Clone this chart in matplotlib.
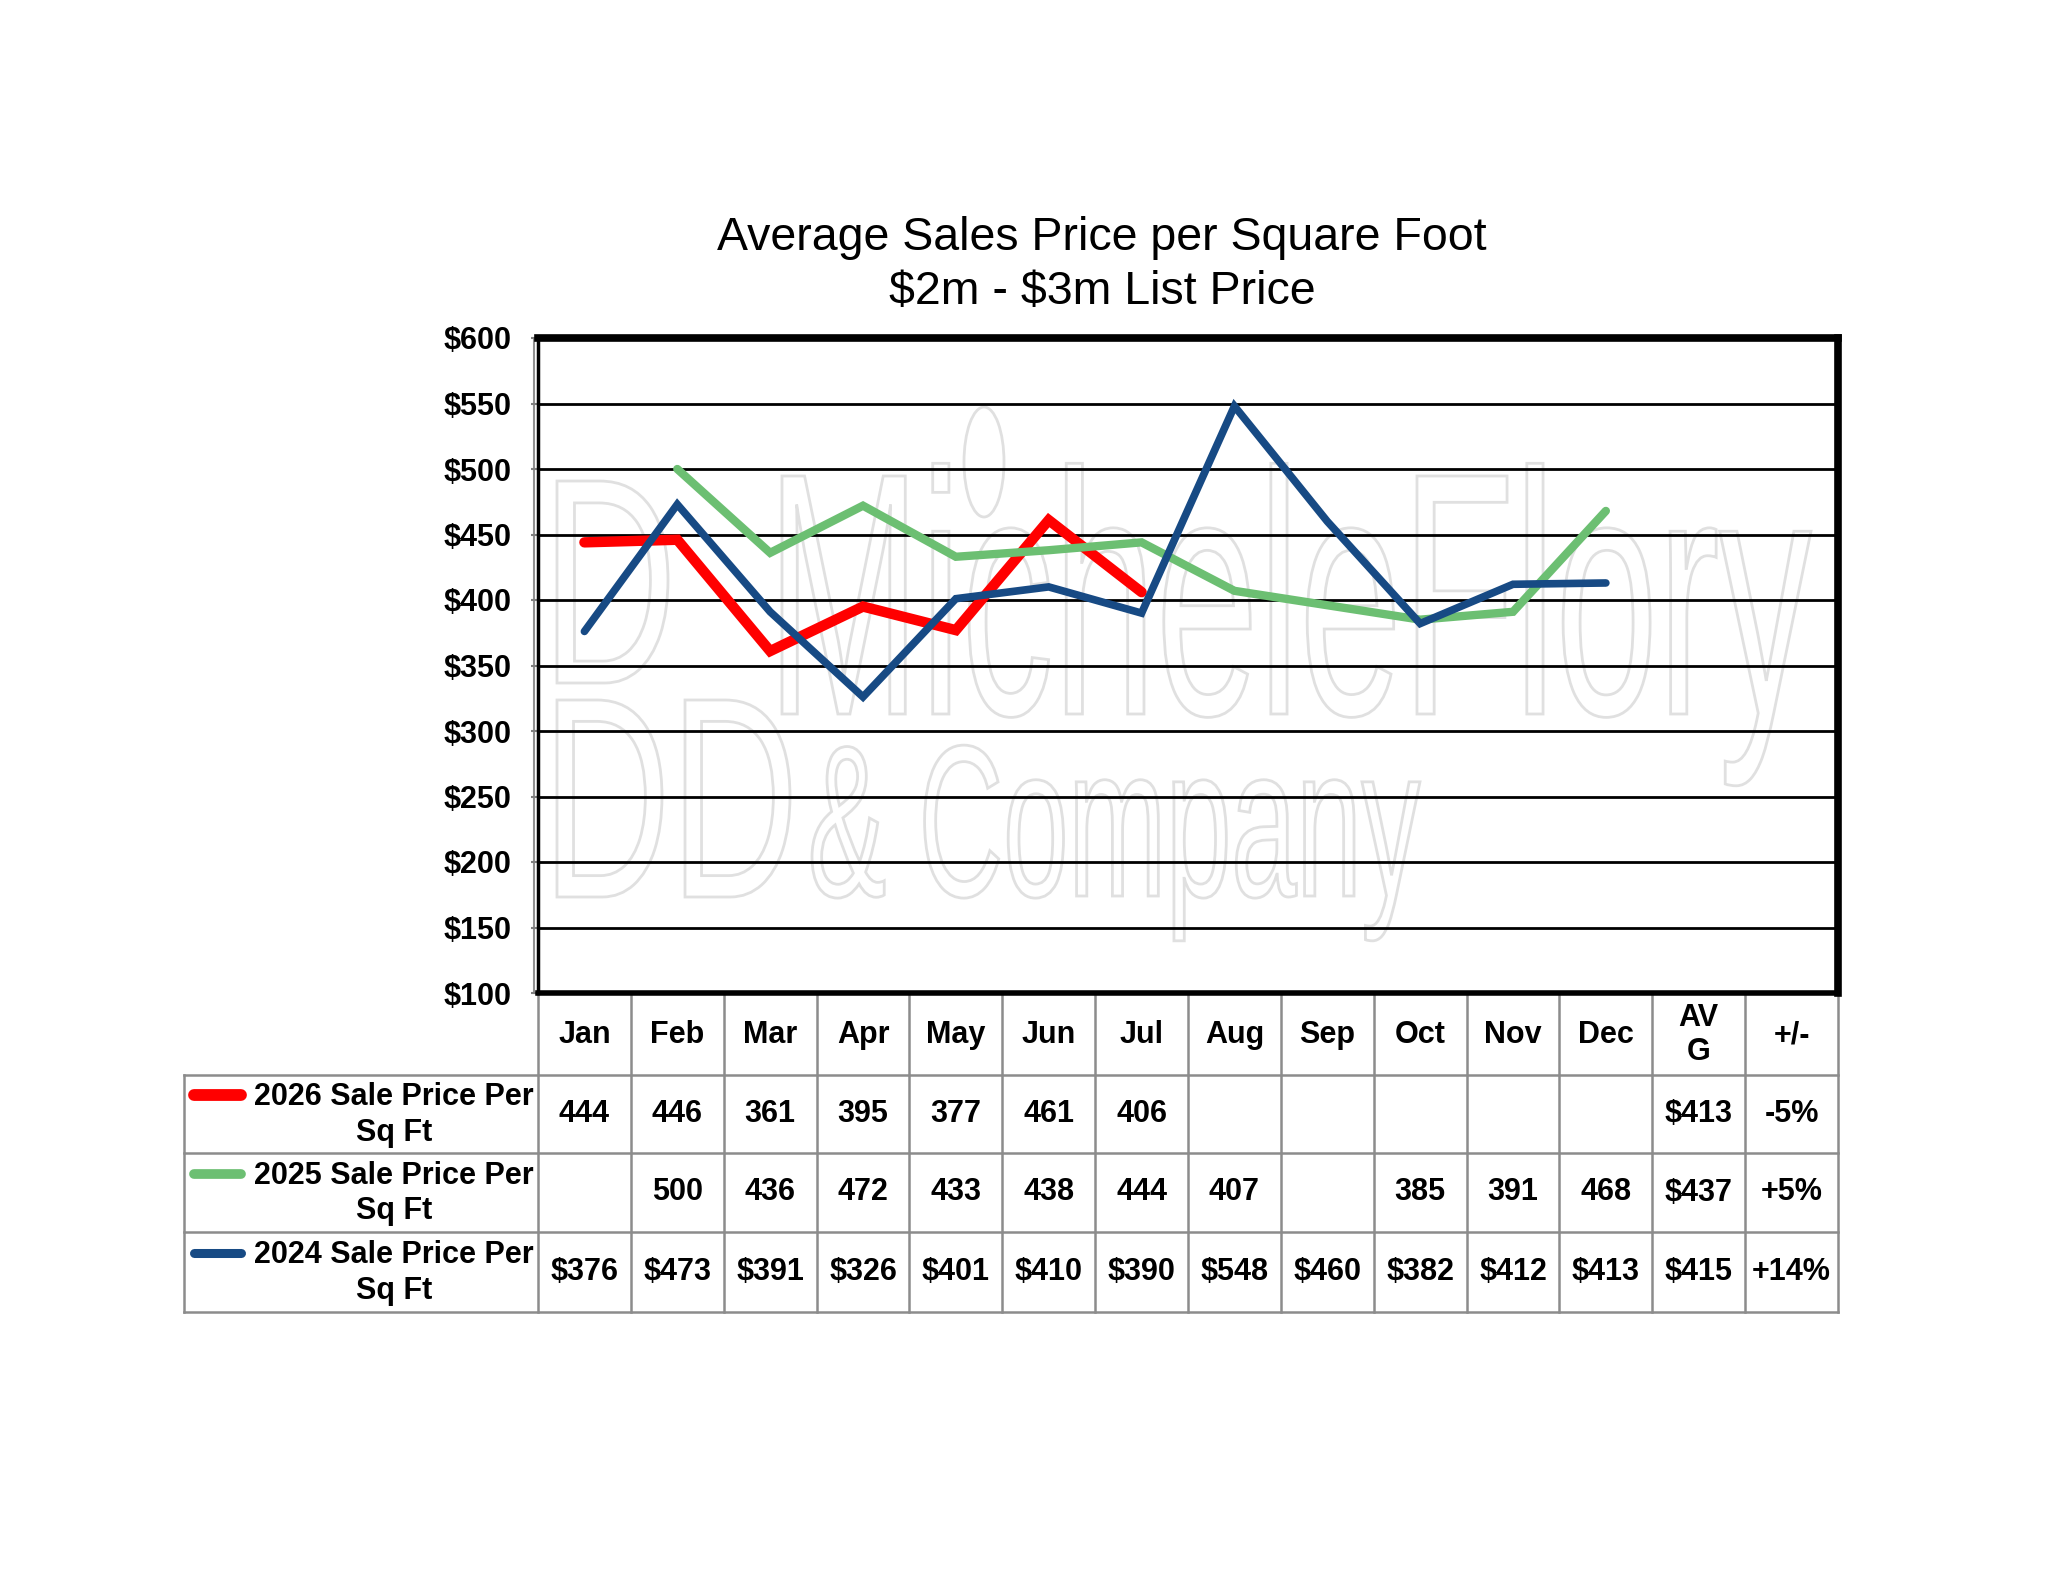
import numpy as np
import matplotlib
matplotlib.use("Agg")
import matplotlib.pyplot as plt
from matplotlib.textpath import TextPath
from matplotlib.patches import PathPatch, Ellipse
from matplotlib.font_manager import FontProperties
import matplotlib.transforms as mtransforms

plt.rcParams['font.family'] = ['Liberation Sans', 'DejaVu Sans']
plt.rcParams['text.parse_math'] = False

months = ['Jan', 'Feb', 'Mar', 'Apr', 'May', 'Jun', 'Jul', 'Aug', 'Sep', 'Oct', 'Nov', 'Dec']
extra_cols = ['AV\nG', '+/-']
sales_2026 = [444, 446, 361, 395, 377, 461, 406, None, None, None, None, None]
sales_2025 = [None, 500, 436, 472, 433, 438, 444, 407, None, 385, 391, 468]
sales_2024 = [376, 473, 391, 326, 401, 410, 390, 548, 460, 382, 412, 413]
series_labels = ['2026 Sale Price Per\nSq Ft', '2025 Sale Price Per\nSq Ft', '2024 Sale Price Per\nSq Ft']
series_avg = ['$413', '$437', '$415']
series_change = ['-5%', '+5%', '+14%']
series_dollar = [False, False, True]
y_ticks = list(range(100, 601, 50))

colors = ['#FF0000', '#6CBF72', '#174A84']
widths = [7.5, 6.0, 5.5]

W, H = 2048, 1583
fig = plt.figure(figsize=(W / 100, H / 100), dpi=100)
fig.patch.set_facecolor('white')

plot_l, plot_r, plot_t, plot_b = 538, 1838, 338, 993
ax = fig.add_axes([plot_l / W, 1 - plot_b / H, (plot_r - plot_l) / W, (plot_b - plot_t) / H], zorder=2)
ax.set_facecolor('none')

bg = fig.add_axes([0, 0, 1, 1], zorder=1)
bg.set_xlim(0, W)
bg.set_ylim(H, 0)
bg.axis('off')

wm_color = '#e0e0e0'


def outline_text(s, x0, x1, cap_top, baseline, size_ref='M'):
    prop = FontProperties(family='Liberation Sans')
    tp = TextPath((0, 0), s, size=1, prop=prop)
    cap = TextPath((0, 0), size_ref, size=1, prop=prop).get_extents().height
    ext = tp.get_extents()
    sx = (x1 - x0) / ext.width
    sy = (baseline - cap_top) / cap
    tr = mtransforms.Affine2D().translate(-ext.x0, 0).scale(sx, -sy).translate(x0, baseline)
    bg.add_patch(PathPatch(tp, transform=tr + bg.transData, fc='none',
                           ec=wm_color, lw=2.0, zorder=0))


# watermark
outline_text('MicheleFlory', 782, 1811, 476, 714)
outline_text('& Company', 812, 1420, 743, 896, size_ref='C')
outline_text('D', 557, 668, 481, 683, size_ref='D')
outline_text('DD', 557, 790, 700, 897, size_ref='D')
bg.add_patch(Ellipse((984, 462), 40, 110, fc='none', ec=wm_color, lw=2.0, zorder=0))

# main chart
n_cols = len(months) + len(extra_cols)
x = np.arange(len(months))
ax.set_xlim(-0.5, n_cols - 0.5)
ax.set_ylim(y_ticks[0], y_ticks[-1])

for yv in y_ticks[1:-1]:
    ax.axhline(yv, color='black', lw=2.0, zorder=1)

for vals, c, lw in zip([sales_2026, sales_2025, sales_2024], colors, widths):
    xs = [xi for xi, v in zip(x, vals) if v is not None]
    ys = [v for v in vals if v is not None]
    ax.plot(xs, ys, color=c, lw=lw, solid_joinstyle='miter', solid_capstyle='round', zorder=3)

ax.set_yticks(y_ticks)
ax.set_yticklabels([f'${v}' for v in y_ticks], fontsize=22, fontweight='bold')
ax.set_xticks([])
ax.tick_params(axis='y', length=5, width=1.5, color='#808080', pad=14)

for side in ['top', 'right']:
    ax.spines[side].set_linewidth(5.5)
ax.spines['bottom'].set_linewidth(4)
ax.spines['left'].set_linewidth(2.5)
for sp in ax.spines.values():
    sp.set_color('black')
    sp.set_capstyle('projecting')
# grey shadow line on the left of the frame
bg.plot([534, 534], [plot_t, plot_b], color='#909090', lw=1.5, zorder=1)

# title
bg.text(1102, 265, 'Average Sales Price per Square Foot\n$2m - $3m List Price',
        ha='center', va='center', fontsize=33.5, linespacing=1.27)

# data table
grid_c = '#8c8c8c'
col_w = (plot_r - plot_l) / n_cols
edges = plot_l + col_w * np.arange(n_cols + 1)
centers = (edges[:-1] + edges[1:]) / 2
tbl_l = 184
row_edges = [1075, 1153, 1232, 1312]

for xe in edges:
    bg.plot([xe, xe], [plot_b, row_edges[-1]], color=grid_c, lw=1.8, zorder=1)
bg.plot([tbl_l, tbl_l], [row_edges[0], row_edges[-1]], color=grid_c, lw=1.8, zorder=1)
for ye in row_edges:
    bg.plot([tbl_l, plot_r], [ye, ye], color=grid_c, lw=1.8, zorder=1)

for cx, lab in zip(centers, months + extra_cols):
    bg.text(cx, 1035, lab, ha='center', va='center', fontsize=22, fontweight='bold',
            linespacing=1.2)

all_vals = [sales_2026, sales_2025, sales_2024]
for i in range(len(all_vals)):
    yc = (row_edges[i] + row_edges[i + 1]) / 2
    bg.plot([194, 241], [yc - 19, yc - 19], color=colors[i], lw=widths[i] + 1,
            solid_capstyle='round', zorder=2)
    bg.text(394, yc + 1, series_labels[i], ha='center', va='center', fontsize=22,
            fontweight='bold', linespacing=1.25, multialignment='center')
    pre = '$' if series_dollar[i] else ''
    cells = [f'{pre}{v}' if v is not None else '' for v in all_vals[i]]
    cells += [series_avg[i], series_change[i]]
    for cx, s in zip(centers, cells):
        bg.text(cx, yc, s, ha='center', va='center', fontsize=22, fontweight='bold')

fig.savefig('out.png', dpi=100, facecolor='white')
